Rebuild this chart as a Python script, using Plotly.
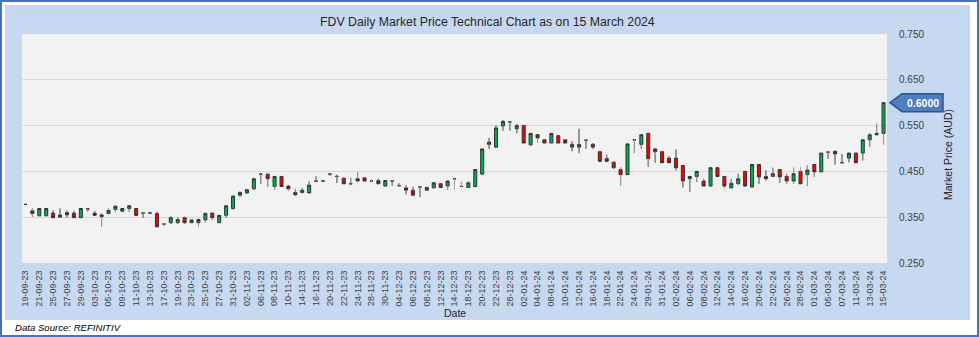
import plotly.graph_objects as go
import pandas as pd

holidays = ["2023-12-25", "2023-12-26", "2024-01-01", "2024-01-26"]
trading_days = [d for d in pd.bdate_range("2023-09-19", "2024-03-15")
                if d.strftime("%Y-%m-%d") not in holidays]
dates = [d.strftime("%d-%m-%y") for d in trading_days]

opens = [0.378, 0.364, 0.353, 0.353, 0.359, 0.350, 0.355, 0.359, 0.349, 0.368,
         0.359, 0.355, 0.358, 0.367, 0.363, 0.369, 0.369, 0.359, 0.359, 0.358,
         0.335, 0.338, 0.338, 0.349, 0.338, 0.338, 0.344, 0.359, 0.338, 0.354,
         0.369, 0.398, 0.403, 0.412, 0.444, 0.444, 0.417, 0.439, 0.418, 0.404,
         0.404, 0.403, 0.429, 0.429, 0.444, 0.439, 0.435, 0.423, 0.429, 0.436,
         0.429, 0.430, 0.418, 0.429, 0.419, 0.414, 0.409, 0.416, 0.409, 0.414,
         0.423, 0.418, 0.434, 0.417, 0.415, 0.417, 0.444, 0.509, 0.503, 0.549,
         0.558, 0.543, 0.550, 0.508, 0.530, 0.519, 0.512, 0.528, 0.519, 0.509,
         0.503, 0.518, 0.509, 0.493, 0.478, 0.470, 0.454, 0.443, 0.519, 0.509,
         0.533, 0.499, 0.493, 0.479, 0.479, 0.463, 0.434, 0.439, 0.429, 0.418,
         0.458, 0.439, 0.414, 0.423, 0.450, 0.416, 0.465, 0.439, 0.439, 0.454,
         0.439, 0.429, 0.450, 0.443, 0.465, 0.449, 0.492, 0.494, 0.469, 0.479,
         0.490, 0.490, 0.519, 0.530, 0.533]

highs = [0.379, 0.369, 0.369, 0.369, 0.365, 0.369, 0.364, 0.364, 0.369, 0.369,
         0.364, 0.359, 0.369, 0.376, 0.369, 0.376, 0.369, 0.361, 0.362, 0.362,
         0.337, 0.352, 0.350, 0.351, 0.344, 0.345, 0.361, 0.361, 0.354, 0.375,
         0.398, 0.406, 0.412, 0.436, 0.445, 0.445, 0.439, 0.439, 0.419, 0.412,
         0.414, 0.428, 0.439, 0.430, 0.445, 0.443, 0.436, 0.436, 0.449, 0.437,
         0.432, 0.434, 0.430, 0.430, 0.424, 0.419, 0.416, 0.417, 0.415, 0.425,
         0.423, 0.429, 0.435, 0.427, 0.428, 0.454, 0.499, 0.523, 0.550, 0.562,
         0.559, 0.554, 0.550, 0.533, 0.530, 0.519, 0.533, 0.528, 0.519, 0.516,
         0.543, 0.519, 0.512, 0.493, 0.487, 0.472, 0.459, 0.510, 0.520, 0.530,
         0.533, 0.501, 0.493, 0.483, 0.498, 0.463, 0.439, 0.450, 0.434, 0.458,
         0.458, 0.439, 0.434, 0.445, 0.450, 0.465, 0.465, 0.452, 0.458, 0.454,
         0.445, 0.458, 0.458, 0.463, 0.465, 0.490, 0.493, 0.494, 0.488, 0.490,
         0.490, 0.519, 0.533, 0.554, 0.600]

lows = [0.377, 0.351, 0.353, 0.353, 0.349, 0.349, 0.349, 0.349, 0.349, 0.362,
        0.354, 0.329, 0.358, 0.362, 0.363, 0.362, 0.354, 0.349, 0.358, 0.329,
        0.332, 0.335, 0.336, 0.335, 0.338, 0.330, 0.339, 0.344, 0.338, 0.349,
        0.367, 0.395, 0.401, 0.409, 0.423, 0.417, 0.410, 0.417, 0.407, 0.396,
        0.402, 0.403, 0.428, 0.428, 0.441, 0.425, 0.423, 0.423, 0.427, 0.429,
        0.427, 0.423, 0.418, 0.418, 0.416, 0.400, 0.396, 0.394, 0.409, 0.414,
        0.415, 0.410, 0.410, 0.416, 0.415, 0.417, 0.444, 0.499, 0.503, 0.539,
        0.539, 0.533, 0.512, 0.505, 0.513, 0.512, 0.512, 0.512, 0.512, 0.494,
        0.490, 0.499, 0.499, 0.472, 0.472, 0.456, 0.419, 0.443, 0.490, 0.499,
        0.460, 0.469, 0.469, 0.469, 0.452, 0.415, 0.405, 0.427, 0.418, 0.418,
        0.439, 0.414, 0.414, 0.422, 0.418, 0.414, 0.423, 0.430, 0.438, 0.425,
        0.423, 0.423, 0.423, 0.418, 0.438, 0.449, 0.478, 0.465, 0.469, 0.470,
        0.469, 0.474, 0.504, 0.529, 0.509]

closes = [0.378, 0.358, 0.369, 0.369, 0.349, 0.355, 0.360, 0.349, 0.369, 0.368,
          0.354, 0.351, 0.365, 0.374, 0.369, 0.375, 0.354, 0.359, 0.359, 0.329,
          0.335, 0.349, 0.345, 0.338, 0.344, 0.345, 0.358, 0.349, 0.354, 0.375,
          0.396, 0.404, 0.410, 0.434, 0.444, 0.434, 0.439, 0.417, 0.412, 0.399,
          0.409, 0.420, 0.429, 0.429, 0.444, 0.439, 0.423, 0.423, 0.434, 0.429,
          0.429, 0.423, 0.430, 0.429, 0.419, 0.409, 0.398, 0.416, 0.415, 0.425,
          0.415, 0.429, 0.434, 0.417, 0.425, 0.454, 0.499, 0.514, 0.545, 0.559,
          0.558, 0.550, 0.512, 0.533, 0.523, 0.512, 0.533, 0.512, 0.512, 0.503,
          0.509, 0.518, 0.503, 0.472, 0.472, 0.458, 0.443, 0.510, 0.519, 0.530,
          0.478, 0.493, 0.469, 0.469, 0.458, 0.429, 0.439, 0.450, 0.418, 0.458,
          0.439, 0.418, 0.424, 0.434, 0.418, 0.465, 0.438, 0.434, 0.445, 0.438,
          0.429, 0.445, 0.423, 0.453, 0.449, 0.490, 0.492, 0.488, 0.469, 0.490,
          0.469, 0.519, 0.530, 0.533, 0.600]

y_ticks = [0.25, 0.35, 0.45, 0.55, 0.65, 0.75]
x_ticks = dates[::2]

TITLE = "FDV Daily Market Price Technical Chart as on 15 March 2024"
FONT = "Liberation Sans, Arial, sans-serif"

fig = go.Figure()

fig.add_trace(go.Candlestick(
    x=dates, open=opens, high=highs, low=lows, close=closes,
    increasing=dict(fillcolor="#00B050", line=dict(color="#303030", width=1)),
    decreasing=dict(fillcolor="#FF0000", line=dict(color="#303030", width=1)),
    whiskerwidth=0, showlegend=False, hoverinfo="skip",
))

# grey wicks outside the bodies
wx, wy = [], []
for d, o, h, l, c in zip(dates, opens, highs, lows, closes):
    top, bot = max(o, c), min(o, c)
    if h > top + 1e-9:
        wx += [d, d, None]
        wy += [h, top, None]
    if l < bot - 1e-9:
        wx += [d, d, None]
        wy += [bot, l, None]
fig.add_trace(go.Scatter(x=wx, y=wy, mode="lines",
                         line=dict(color="#A0A0A0", width=1),
                         showlegend=False, hoverinfo="skip"))

L, R, T, B = 22, 92, 34, 74
W, H = 979, 337
pw, ph = W - L - R, H - T - B


def px(x):
    return (x - L) / pw


def py(y):
    return (H - B - y) / ph


shapes = [
    # light blue chart panel
    dict(type="rect", xref="paper", yref="paper", x0=px(5), x1=px(970),
         y0=py(320), y1=py(5), fillcolor="#C6D9F1", line=dict(width=0),
         layer="below"),
    # plot area background
    dict(type="rect", xref="paper", yref="paper", x0=0, x1=1, y0=0, y1=1,
         fillcolor="#F2F2F2", line=dict(width=0), layer="below"),
    # outer border
    dict(type="rect", xref="paper", yref="paper", x0=px(1), x1=px(978),
         y0=py(336), y1=py(1), fillcolor="rgba(0,0,0,0)",
         line=dict(color="#4472C4", width=2), layer="above"),
]

last = closes[-1]
hh = 0.0197
tip, bl, br = px(890), px(902), px(943)
shapes.append(dict(
    type="path", xref="paper", yref="y",
    path=(f"M {tip},{last} L {bl},{last + hh} L {br},{last + hh} "
          f"L {br},{last - hh} L {bl},{last - hh} Z"),
    fillcolor="#4F7DBF", line=dict(color="#2F528F", width=1.5), layer="above"))

annotations = [
    dict(text=TITLE, xref="paper", yref="paper", x=px(487.5), y=py(22),
         xanchor="center", yanchor="middle", showarrow=False,
         font=dict(family=FONT, size=12.3, color="#262626")),
    dict(text="Date", xref="paper", yref="paper", x=0.5, y=py(313),
         xanchor="center", yanchor="middle", showarrow=False,
         font=dict(family=FONT, size=10.5, color="#262626")),
    dict(text="Market Price (AUD)", xref="paper", yref="paper", x=px(948),
         y=py(155), xanchor="center", yanchor="middle", textangle=-90,
         showarrow=False, font=dict(family=FONT, size=10.5, color="#262626")),
    dict(text="<i>Data Source: REFINITIV</i>", xref="paper", yref="paper",
         x=px(13), y=py(327), xanchor="left", yanchor="middle",
         showarrow=False, font=dict(family=FONT, size=9.6, color="#000000")),
    dict(text=f"<b>{last:.4f}</b>", xref="paper", yref="y", x=px(922.5),
         y=last, xanchor="center", yanchor="middle", showarrow=False,
         font=dict(family=FONT, size=10.5, color="#FFFFFF")),
]

fig.update_layout(
    width=W, height=H,
    margin=dict(l=L, r=R, t=T, b=B, pad=0),
    paper_bgcolor="#FFFFFF", plot_bgcolor="#F2F2F2",
    boxgap=0.38,
    shapes=shapes, annotations=annotations,
    showlegend=False,
    xaxis=dict(type="category", categoryorder="array", categoryarray=dates,
               range=[-0.5, len(dates) - 0.5],
               tickmode="array", tickvals=x_ticks, ticktext=x_ticks,
               tickangle=-90, ticks="outside", ticklen=3,
               tickcolor="rgba(0,0,0,0)", showgrid=False, showline=False,
               zeroline=False, rangeslider=dict(visible=False),
               tickfont=dict(family=FONT, size=9, color="#404040")),
    yaxis=dict(side="right", range=[0.25, 0.75], tickmode="array",
               tickvals=y_ticks, tickformat=".3f", ticks="outside",
               ticklen=9, tickcolor="rgba(0,0,0,0)", showgrid=True,
               gridcolor="#D9D9D9", gridwidth=1, zeroline=False,
               showline=False,
               tickfont=dict(family=FONT, size=10, color="#404040")),
)

fig.write_html("out.html")
